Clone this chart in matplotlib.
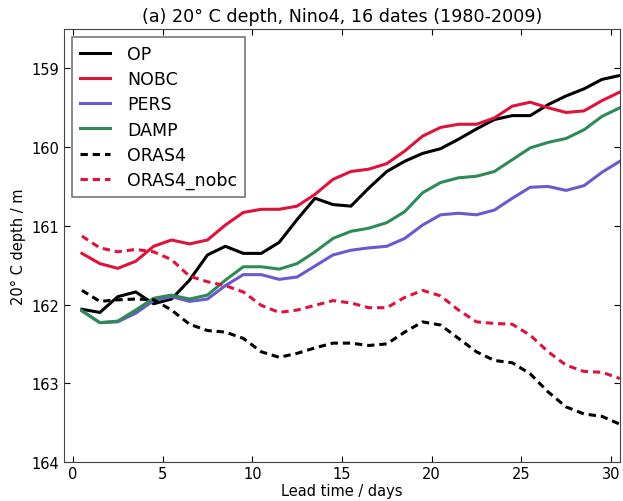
import matplotlib
matplotlib.use("Agg")
import matplotlib.pyplot as plt
import numpy as np

# lead times (days) and 20C depth per experiment (m)
lead = np.arange(0.5, 31.0, 1.0)

op = [162.06, 162.10, 161.90, 161.84, 161.99, 161.93, 161.69, 161.37, 161.26, 161.35,
      161.35, 161.21, 160.92, 160.65, 160.73, 160.75, 160.52, 160.31, 160.18, 160.08,
      160.02, 159.90, 159.77, 159.65, 159.60, 159.60, 159.46, 159.35, 159.26, 159.14,
      159.09]
nobc = [161.35, 161.48, 161.54, 161.45, 161.26, 161.18, 161.23, 161.18, 160.99, 160.83,
        160.79, 160.79, 160.75, 160.60, 160.41, 160.31, 160.28, 160.21, 160.05, 159.86,
        159.75, 159.71, 159.71, 159.63, 159.48, 159.43, 159.50, 159.56, 159.54, 159.41,
        159.30]
pers = [162.08, 162.23, 162.22, 162.11, 161.95, 161.90, 161.96, 161.93, 161.76, 161.62,
        161.62, 161.68, 161.65, 161.51, 161.37, 161.31, 161.28, 161.26, 161.16, 160.99,
        160.86, 160.84, 160.86, 160.80, 160.65, 160.51, 160.50, 160.55, 160.49, 160.32,
        160.18]
damp = [162.08, 162.23, 162.21, 162.07, 161.92, 161.88, 161.93, 161.88, 161.69, 161.52,
        161.52, 161.55, 161.48, 161.33, 161.16, 161.07, 161.03, 160.96, 160.82, 160.58,
        160.45, 160.39, 160.37, 160.31, 160.16, 160.01, 159.94, 159.89, 159.78, 159.61,
        159.50]
oras4 = [161.82, 161.96, 161.94, 161.93, 161.94, 162.07, 162.25, 162.33, 162.35, 162.43,
         162.60, 162.67, 162.62, 162.55, 162.49, 162.49, 162.52, 162.50, 162.35, 162.22,
         162.26, 162.43, 162.60, 162.71, 162.74, 162.88, 163.11, 163.30, 163.39, 163.42,
         163.52]
oras4_nobc = [161.13, 161.28, 161.33, 161.30, 161.33, 161.43, 161.64, 161.71, 161.76, 161.84,
              162.01, 162.10, 162.07, 162.01, 161.95, 161.98, 162.04, 162.04, 161.91, 161.82,
              161.89, 162.07, 162.22, 162.24, 162.25, 162.39, 162.60, 162.77, 162.85, 162.86,
              162.94]

fig = plt.figure(figsize=(6.23, 5.02), dpi=100)
ax = fig.add_axes([0.1027, 0.0777, 0.8923, 0.8625])

lw = 2.2
dash = (2.4, 1.6)
ax.plot(lead, op, color='black', lw=lw, label='OP')
ax.plot(lead, nobc, color='crimson', lw=lw, label='NOBC')
ax.plot(lead, pers, color='slateblue', lw=lw, label='PERS')
ax.plot(lead, damp, color='seagreen', lw=lw, label='DAMP')
ax.plot(lead, oras4, color='black', lw=lw, ls=(0, dash), label='ORAS4')
ax.plot(lead, oras4_nobc, color='crimson', lw=lw, ls=(0, dash), label='ORAS4_nobc')

ax.set_xlim(-0.5, 30.5)
ax.set_ylim(164, 158.5)
ax.set_xticks([0, 5, 10, 15, 20, 25, 30])
ax.set_yticks([159, 160, 161, 162, 163, 164])
ax.tick_params(direction='in', top=True, right=True, length=4, labelsize=10.5)
ax.tick_params(axis='x', pad=3)
for s in ax.spines.values():
    s.set_color('#444444')

ax.set_xlabel('Lead time / days', fontsize=10.5, labelpad=1)
ax.set_ylabel('20° C depth / m', fontsize=10.5)
ax.set_title('(a) 20° C depth, Nino4, 16 dates (1980-2009)', fontsize=12.6)

leg = ax.legend(loc='upper left', fontsize=12.5, fancybox=False, handlelength=1.75,
                handletextpad=1.0, borderpad=0.45, labelspacing=0.42,
                borderaxespad=0.45)
leg.get_frame().set_edgecolor('#555555')
leg.get_frame().set_linewidth(1.2)

fig.savefig('out.png', dpi=100)
